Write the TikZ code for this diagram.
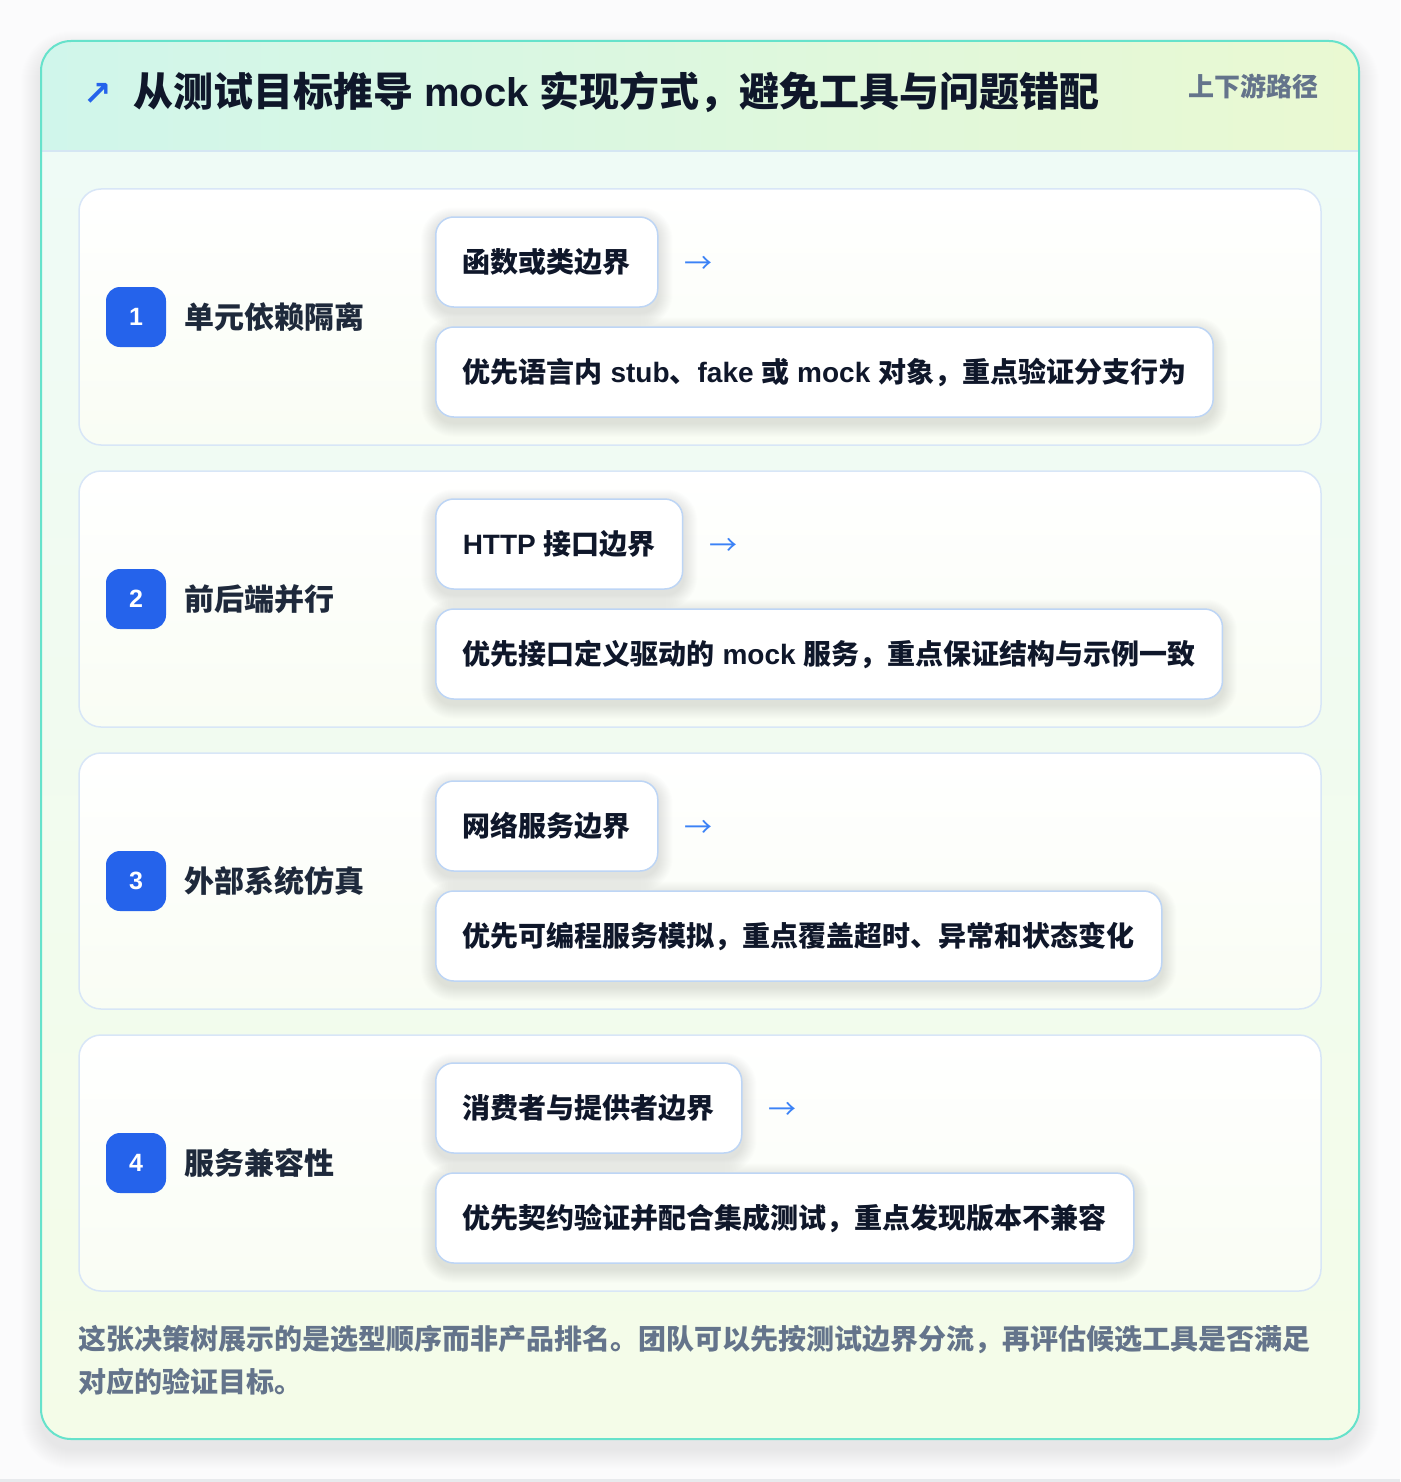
\documentclass[tikz,border=0pt]{standalone}
\usepackage{fontspec}
\setmainfont{Noto Sans CJK SC}
\newfontfamily\latfont{Liberation Sans}
\newfontfamily\symfont{DejaVu Sans}
\definecolor{pagebg}{HTML}{FBFBFC}
\definecolor{stripc}{HTML}{E8EAED}
\definecolor{hdrL}{HTML}{D0F6EB}
\definecolor{hdrR}{HTML}{EAF9D2}
\definecolor{bodyT}{HTML}{EFFBF6}
\definecolor{bodyB}{HTML}{F4FCE8}
\definecolor{hdrline}{HTML}{D5E6F3}
\definecolor{cardline}{HTML}{66E2CB}
\definecolor{rowline}{HTML}{D8E6F7}
\definecolor{rowB}{HTML}{F9FDF4}
\definecolor{boxline}{HTML}{BDD5F5}
\definecolor{blueA}{HTML}{2563EB}
\definecolor{blueB}{HTML}{3B82F6}
\definecolor{ink}{HTML}{0F172A}
\definecolor{ink2}{HTML}{1E293B}
\definecolor{grayt}{HTML}{64748B}
\newcommand\lat[1]{{\latfont\bfseries #1}}
\pgfdeclarelayer{lay0}
\pgfdeclarelayer{lay1}
\pgfdeclarelayer{lay2}
\pgfsetlayers{lay0,lay1,lay2,main}
\begin{document}
\begin{tikzpicture}[x=1pt,y=-1pt,
  rowcard/.style={draw=rowline, line width=1.5pt, rounded corners=22pt, top color=white, bottom color=rowB, minimum width=1242pt, minimum height=256pt, inner sep=0pt},
  badge/.style={fill=blueA, rounded corners=14pt, minimum size=60pt, inner sep=0pt, text=white, font=\fontsize{25}{30}\selectfont, text height=17.9pt, text depth=0pt},
  rowlabel/.style={anchor=base west, inner sep=0pt, text=ink2, font=\fontsize{30}{36}\selectfont\bfseries},
  tbox/.style={draw=boxline, line width=1.5pt, fill=white, rounded corners=18pt, minimum height=90pt, inner xsep=27pt, inner ysep=0pt, anchor=west, text=ink, font=\fontsize{28}{34}\selectfont\bfseries, text height=24.6pt, text depth=3.4pt},
  arr/.style={anchor=west, inner sep=0pt, text=blueB, font=\fontsize{28}{34}\selectfont},
  shad/.style={fill=black, opacity=0.006},
]
\useasboundingbox (0,0) rectangle (1400,1482);
\begin{pgfonlayer}{lay0}
\fill[pagebg] (0,0) rectangle (1400,1482);
\fill[stripc] (0,1479) rectangle (1400,1482);
% outer card shadow
\foreach \k in {1,...,20}{
  \pgfmathsetmacro\rr{30+\k}
  \fill[black, opacity=0.0055, rounded corners=\rr pt] (41-\k,41-\k+10) rectangle (1359+\k,1439+\k+10);
}
\fill[white, rounded corners=30pt] (41,41) rectangle (1359,1439);
\begin{scope}
\clip[rounded corners=30pt] (41,41) rectangle (1359,1439);
\shade[left color=hdrL, right color=hdrR] (41,41) rectangle (1359,151);
\shade[top color=bodyT, bottom color=bodyB] (41,151) rectangle (1359,1439);
\draw[hdrline, line width=1.5pt] (41,151) -- (1359,151);
\end{scope}
\draw[cardline, line width=2pt, rounded corners=30pt] (41,41) rectangle (1359,1439);
\end{pgfonlayer}
% header
\node[anchor=base west, inner sep=0pt, text=blueA, font=\symfont\bfseries\fontsize{34}{40}\selectfont] (hicon) at (83,106) {↗};
\node[anchor=base west, inner sep=0pt, text=ink, font=\fontsize{40}{48}\selectfont\bfseries] (title) at (133,107) {从测试目标推导\lat{ mock }实现方式，避免工具与问题错配};
\node[anchor=base west, inner sep=0pt, text=grayt, font=\fontsize{26}{32}\selectfont\bfseries] (tag) at (1188,97) {上下游路径};
% rows
\foreach \i/\ty/\lab/\topt/\bott in {
  1/189/单元依赖隔离/函数或类边界/{优先语言内\lat{ stub}、\lat{fake }或\lat{ mock }对象，重点验证分支行为},
  2/471/前后端并行/{\lat{HTTP }接口边界}/{优先接口定义驱动的\lat{ mock }服务，重点保证结构与示例一致},
  3/753/外部系统仿真/网络服务边界/{优先可编程服务模拟，重点覆盖超时、异常和状态变化},
  4/1035/服务兼容性/消费者与提供者边界/{优先契约验证并配合集成测试，重点发现版本不兼容}}{
  \begin{pgfonlayer}{lay1}
  \node[rowcard] (r\i) at (700,\ty+128) {};
  \end{pgfonlayer}
  \node[badge] (b\i) at (136,\ty+128) {\lat{\i}};
  \node[rowlabel] (l\i) at (184,\ty+139) {\lab};
  \node[tbox] (t\i) at (435,\ty+73) {\topt};
  \node[arr] (a\i) at ([xshift=26pt,yshift=-3pt]t\i.east) {→};
  \node[tbox] (d\i) at (435,\ty+183) {\bott};
  \begin{pgfonlayer}{lay2}
  \foreach \n in {t\i,d\i}{
    \foreach \k in {1,...,14}{
      \pgfmathsetmacro\rr{18+\k}
      \fill[shad, rounded corners=\rr pt] ([xshift=-\k pt,yshift=\k pt-5pt]\n.north west) rectangle ([xshift=\k pt,yshift=-\k pt-5pt]\n.south east);
    }
  }
  \end{pgfonlayer}
}
% footer
\node[anchor=base west, inner sep=0pt, text=grayt, font=\fontsize{28}{43}\selectfont\bfseries] (foot1) at (78,1349) {这张决策树展示的是选型顺序而非产品排名。团队可以先按测试边界分流，再评估候选工具是否满足};
\node[anchor=base west, inner sep=0pt, text=grayt, font=\fontsize{28}{43}\selectfont\bfseries] (foot2) at (78,1392) {对应的验证目标。};
\end{tikzpicture}
\end{document}
